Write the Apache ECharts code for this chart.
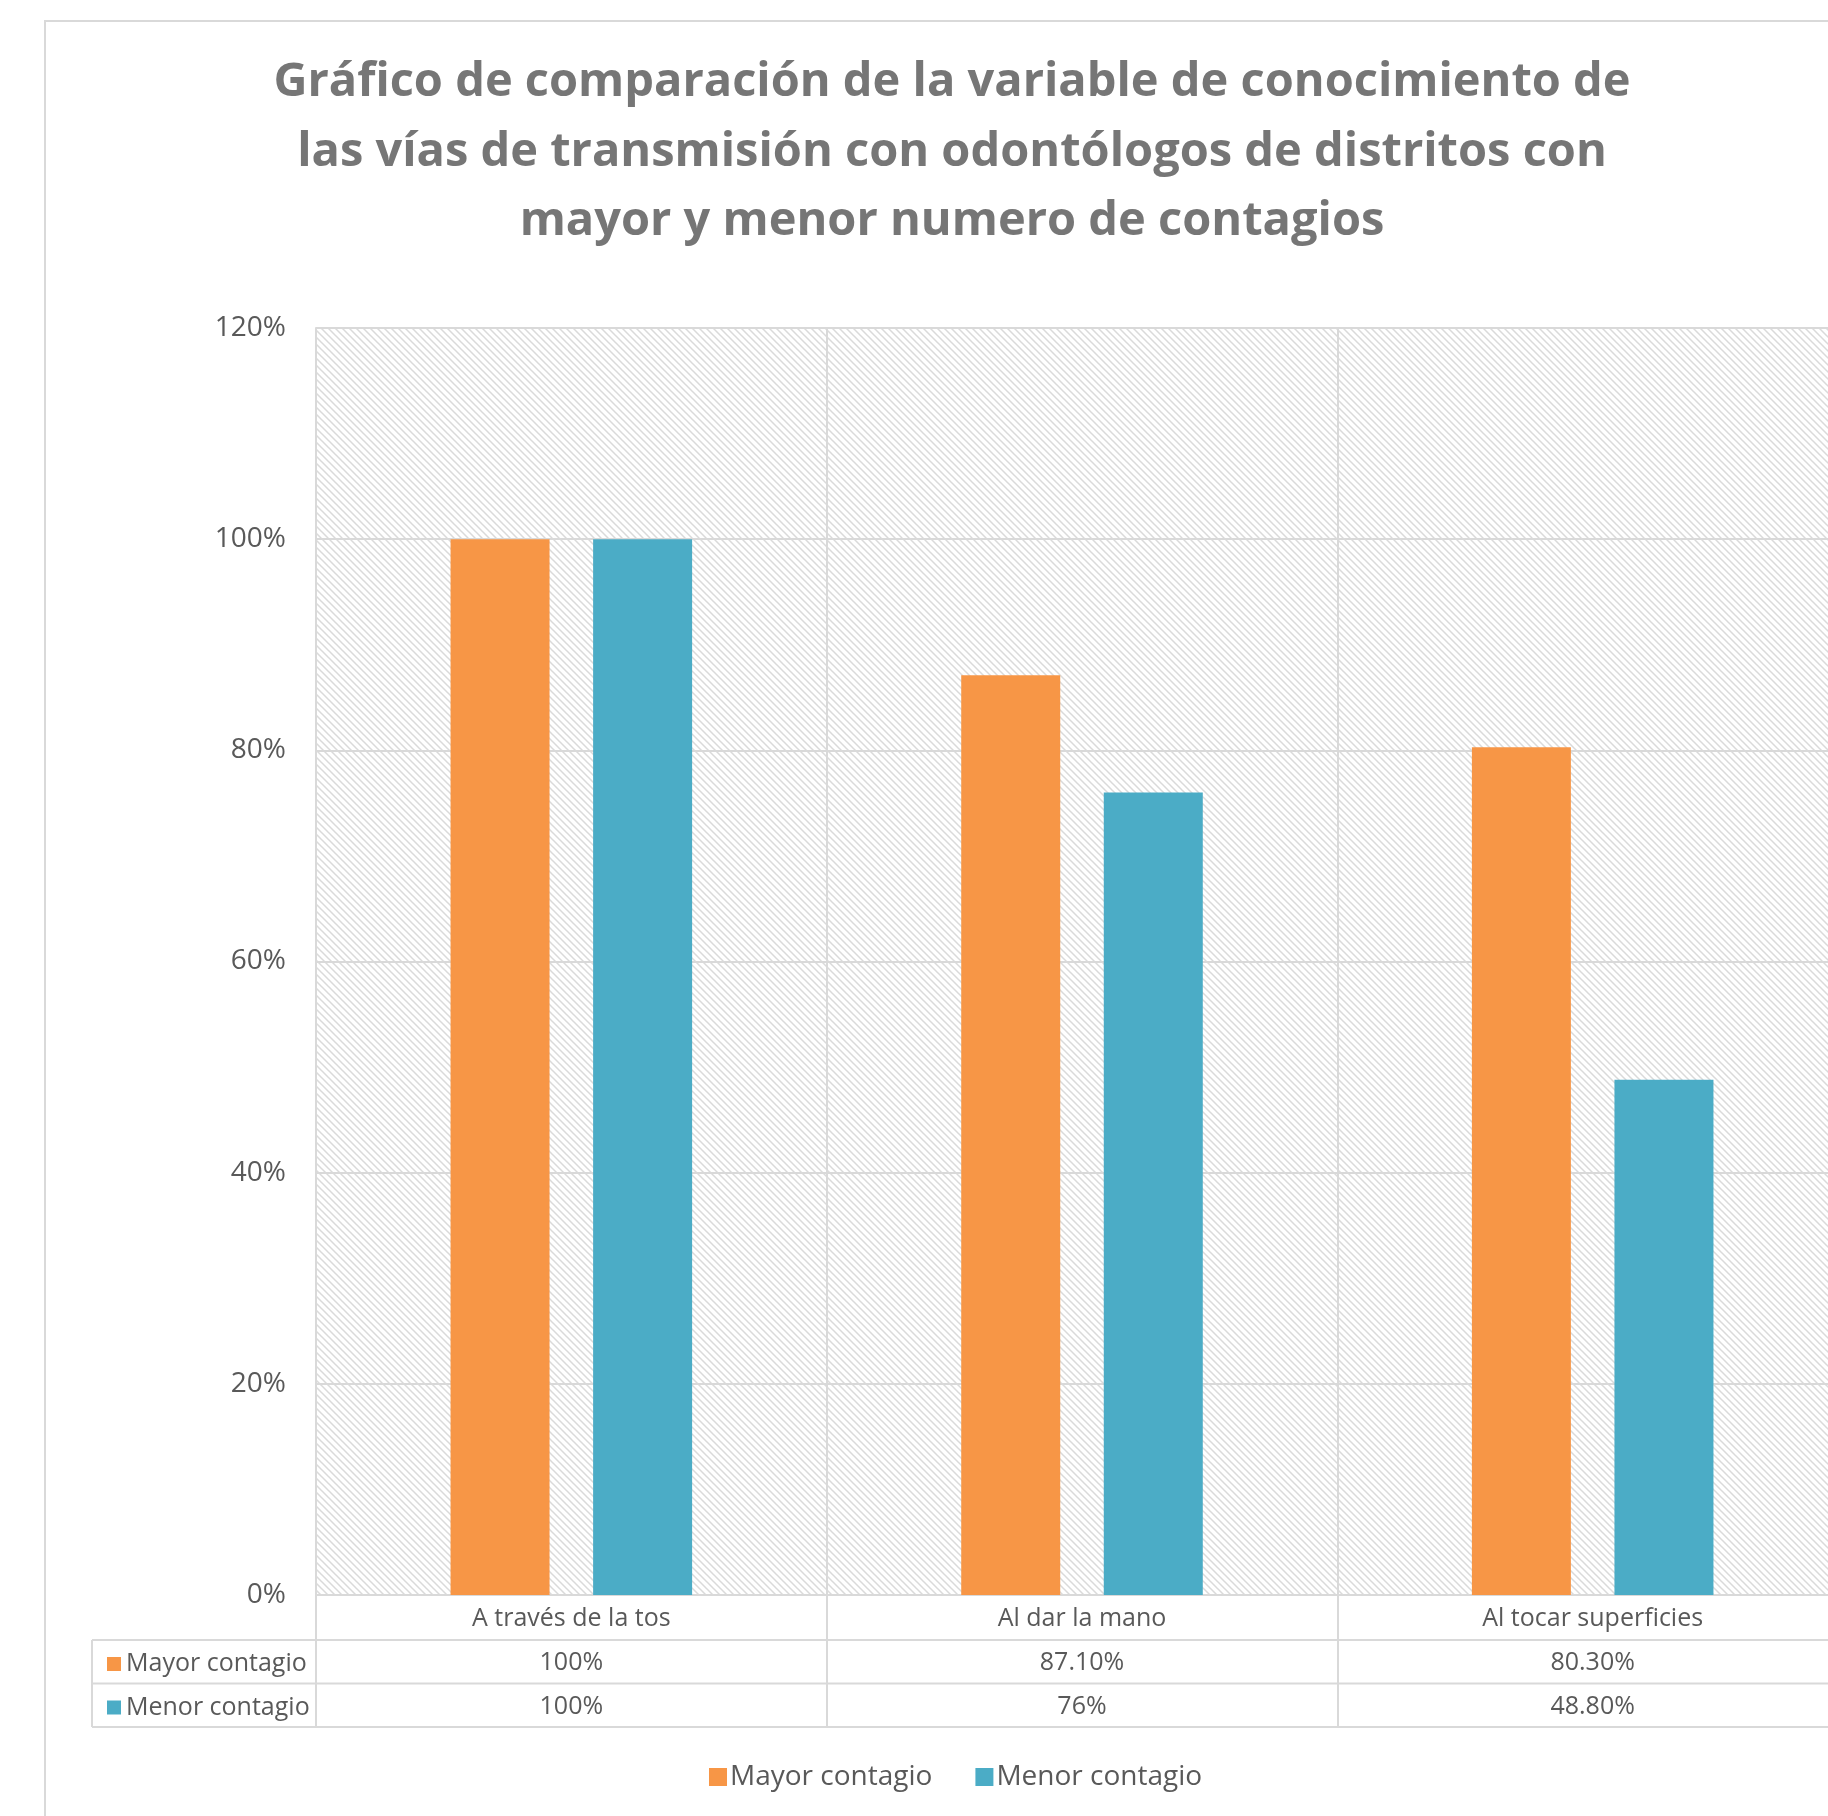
<!DOCTYPE html>
<html>
<head>
<meta charset="utf-8">
<script src="https://cdn.jsdelivr.net/npm/echarts@6/dist/echarts.min.js"></script>
<style>
  html, body { margin: 0; padding: 0; background: #fff; overflow: hidden; }
  /* the original picture crops the chart on its right edge */
  #chart { width: 1852px; height: 1816px; }
</style>
</head>
<body>
<div id="chart"></div>
<script>
// data
const categories = ['A través de la tos', 'Al dar la mano', 'Al tocar superficies']
const mayorContagio = [1.00, 0.871, 0.803]
const menorContagio = [1.00, 0.76, 0.488]
// labels as printed in the data table
const mayorTableLabels = ['100%', '87.10%', '80.30%']
const menorTableLabels = ['100%', '76%', '48.80%']

const gridLine = '#d9d9d9'
const textColor = '#595959'
const font = "'Open Sans', sans-serif"

// diagonal hatch for the plot area
function hatch() {
  const c = document.createElement('canvas')
  c.width = 7
  c.height = 7
  const ctx = c.getContext('2d')
  ctx.fillStyle = '#ffffff'
  ctx.fillRect(0, 0, 7, 7)
  ctx.strokeStyle = '#dadada'
  ctx.lineWidth = 1.5
  ctx.beginPath()
  ctx.moveTo(-1, -1); ctx.lineTo(8, 8)
  ctx.moveTo(-8, -1); ctx.lineTo(1, 8)
  ctx.moveTo(6, -1); ctx.lineTo(15, 8)
  ctx.stroke()
  return c
}

const chart = echarts.init(document.getElementById('chart'), null, { renderer: 'canvas' })

const option = {
  backgroundColor: '#fff',
  animation: false,
  title: {
    text: 'Gráfico de comparación de la variable de conocimiento de\nlas vías de transmisión con odontólogos de distritos con\nmayor y menor numero de contagios',
    left: 947,
    top: 43,
    textAlign: 'center',
    textStyle: {
      fontFamily: font,
      fontSize: 47,
      fontWeight: 'bold',
      color: '#767676',
      lineHeight: 69.5
    }
  },
  legend: [
    {
      data: ['Mayor contagio', 'Menor contagio'],
      left: 704,
      top: 1758,
      itemWidth: 18,
      itemHeight: 18,
      itemGap: 43,
      icon: 'rect',
      textStyle: { fontFamily: font, fontSize: 28, color: textColor, padding: [0, 0, 0, -2] }
    },
    {
      data: ['Mayor contagio', 'Menor contagio'],
      orient: 'vertical',
      left: 102,
      top: 1644,
      itemWidth: 14,
      itemHeight: 14,
      itemGap: 13.5,
      icon: 'rect',
      selectedMode: false,
      textStyle: { fontFamily: font, fontSize: 25, color: textColor, lineHeight: 30, padding: [0, 0, 0, 0] }
    }
  ],
  grid: {
    left: 316,
    top: 328,
    right: 4,
    bottom: 221,
    containLabel: false,
    show: true,
    borderWidth: 0,
    backgroundColor: { image: hatch(), repeat: 'repeat' }
  },
  xAxis: {
    type: 'category',
    data: categories,
    axisLine: { show: true, lineStyle: { color: gridLine, width: 2 } },
    axisTick: { show: true, length: 132, lineStyle: { color: gridLine, width: 2 } },
    splitLine: { show: true, interval: 0, lineStyle: { color: gridLine, width: 2 } },
    axisLabel: {
      margin: 2,
      interval: 0,
      formatter: (v, i) => `{c|${v}}\n{c|${mayorTableLabels[i]}}\n{c|${menorTableLabels[i]}}`,
      rich: {
        c: { fontFamily: font, fontSize: 25, color: textColor, lineHeight: 43.8, height: 43.8 }
      }
    }
  },
  yAxis: {
    type: 'value',
    min: 0,
    max: 1.2,
    interval: 0.2,
    axisLine: { show: true, lineStyle: { color: gridLine, width: 2 } },
    axisTick: { show: false },
    splitLine: { show: true, lineStyle: { color: gridLine, width: 2 } },
    axisLabel: {
      margin: 30,
      fontFamily: font,
      fontSize: 28,
      color: textColor,
      formatter: v => Math.round(v * 100) + '%'
    }
  },
  series: [
    {
      name: 'Mayor contagio',
      type: 'bar',
      data: mayorContagio,
      barWidth: 99,
      barGap: '44%',
      itemStyle: { color: '#F79646' }
    },
    {
      name: 'Menor contagio',
      type: 'bar',
      data: menorContagio,
      barWidth: 99,
      barGap: '44%',
      itemStyle: { color: '#4BACC6' }
    }
  ],
  graphic: [
    // chart outer border
    { type: 'rect', z: -1, shape: { x: 45, y: 21, width: 1900, height: 1900 },
      style: { fill: null, stroke: gridLine, lineWidth: 2 } },
    // data table rules
    { type: 'line', shape: { x1: 92, y1: 1640, x2: 1852, y2: 1640 }, style: { stroke: gridLine, lineWidth: 2 } },
    { type: 'line', shape: { x1: 92, y1: 1683.5, x2: 1852, y2: 1683.5 }, style: { stroke: gridLine, lineWidth: 2 } },
    { type: 'line', shape: { x1: 92, y1: 1727, x2: 1852, y2: 1727 }, style: { stroke: gridLine, lineWidth: 2 } },
    { type: 'line', shape: { x1: 92, y1: 1640, x2: 92, y2: 1727 }, style: { stroke: gridLine, lineWidth: 2 } }
  ]
}

chart.setOption(option)
</script>
</body>
</html>
